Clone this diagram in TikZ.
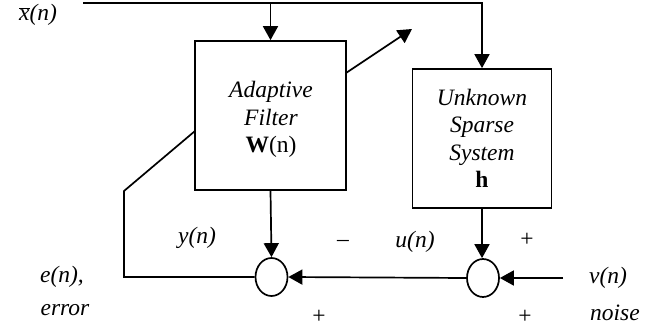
\documentclass[tikz,border=0pt]{standalone}
\usepackage{fontspec}
\setmainfont{Liberation Serif}
\usetikzlibrary{arrows.meta,shapes.geometric}
\begin{document}
\begin{tikzpicture}[x=1pt,y=-1pt,
  line width=1.7pt,
  arr/.style={-{Triangle[length=14pt,width=15pt]}},
  txt/.style={font=\fontsize{23.5}{27.5}\selectfont\itshape, inner sep=0pt, align=center},
  blk/.style={draw, line width=1.7pt, inner sep=0pt},
  sumj/.style={draw, ellipse, line width=1.7pt, minimum width=32pt, minimum height=38pt, inner sep=0pt}
  ]
\useasboundingbox (0,0) rectangle (670,329);

% blocks
\node[blk, minimum width=151pt, minimum height=149pt] (af) at (270.5,115.5) {};
\node[txt] (aft) at (271,119.5) {Adaptive\\Filter\\{\upshape\bfseries W}{\upshape(n)}};
\node[blk, txt, minimum width=139pt, minimum height=139pt] (uk) at (482,138.5) {Unknown\\Sparse\\System\\{\upshape\bfseries h}};

% summing junctions
\node[sumj] (s1) at (271.5,277) {};
\node[sumj] (s2) at (483,278) {};

% coordinates
\coordinate (xin) at (83,3);
\coordinate (ds) at (346,73);
\coordinate (de) at (412,29);
\coordinate (vin) at (563,278);
\coordinate (fb1) at (124,277);
\coordinate (fb2) at (124,191);
\coordinate (fb3) at (195,131);

% connectors
\draw[arr] (xin) -| (uk.north);
\draw[arr] (af.north |- xin) -- (af.north);
\draw[arr] (ds) -- (de);
\draw[arr] (af.south) -- (s1.north);
\draw[arr] (uk.south) -- (uk.south |- s2.north);
\draw[arr] (s2.west) -- (s1.east);
\draw[arr] (vin) -- (s2.east);
\draw (s1.west) -- (fb1) -- (fb2) -- (fb3);

% labels
\node[txt] (lx) at (38,15) {$\overline{\hbox{\itshape x}}$(n)};
\node[txt] (ly) at (197,238) {y(n)};
\node[txt] (lm) at (343,243) {\upshape –};
\node[txt] (lu) at (415,242) {u(n)};
\node[txt] (lp1) at (527,240) {\upshape +};
\node[txt] (lv) at (608,278) {v(n)};
\node[txt] (ln) at (615,313) {noise};
\node[txt] (le) at (62,277) {e(n),};
\node[txt] (ler) at (65,310) {error};
\node[txt] (lp2) at (319,317) {\upshape +};
\node[txt] (lp3) at (525,317) {\upshape +};
\end{tikzpicture}
\end{document}
